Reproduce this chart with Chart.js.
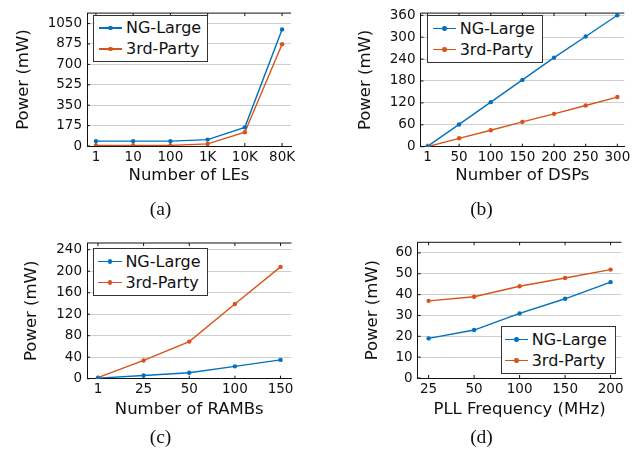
<!DOCTYPE html>
<html>
<head>
<meta charset="utf-8">
<script src="https://cdn.jsdelivr.net/npm/chart.js@4.4.1/dist/chart.umd.min.js"></script>
<style>
  html, body { margin: 0; padding: 0; background: #fff; }
  body { width: 642px; height: 457px; position: relative; overflow: hidden; font-family: 'DejaVu Sans', sans-serif; }
  .panel { position: absolute; width: 321px; height: 228px; }
  .panel canvas { position: absolute; left: 0; top: 0; }
  .caption { position: absolute; left: 0; width: 100%; text-align: center; font-family: 'Liberation Serif', serif; font-size: 19.5px; line-height: 20px; color: #111; }
  .legend { position: absolute; background: #fff; border: 1px solid #333; box-sizing: border-box; }
  .legend .row { position: absolute; left: 0; height: 20px; line-height: 20px; font-size: 16px; color: #111; white-space: nowrap; }
  .legend .sample { position: absolute; top: 9px; height: 1.5px; }
  .legend .dot { position: absolute; top: -1.5px; left: 9.5px; width: 4.5px; height: 4.5px; border-radius: 50%; }
</style>
</head>
<body>
<div id="wrap"></div>
<script>
// series
const seriesNames = ['NG-Large', '3rd-Party'];
const seriesColors = ['#0072bd', '#d95319'];

// (a) LEs
const leLabels = ['1', '10', '100', '1K', '10K', '80K'];
const leNg = [42, 42, 42, 55, 160, 1000];
const le3rd = [5, 5, 5, 18, 118, 873];
const leTicks = [0, 175, 350, 525, 700, 875, 1050];

// (b) DSPs
const dspLabels = ['1', '50', '100', '150', '200', '250', '300'];
const dspNg = [1, 61, 122, 183, 244, 302, 360];
const dsp3rd = [0, 23, 45, 68, 90, 113, 136];
const dspTicks = [0, 60, 120, 180, 240, 300, 360];

// (c) RAMBs
const rambLabels = ['1', '25', '50', '100', '150'];
const rambNg = [1, 6, 11, 23, 35];
const ramb3rd = [2, 34, 69, 139, 208];
const rambTicks = [0, 40, 80, 120, 160, 200, 240];

// (d) PLL frequency
const pllLabels = ['25', '50', '100', '150', '200'];
const pllNg = [19, 23, 31, 38, 46];
const pll3rd = [37, 39, 44, 48, 52];
const pllTicks = [0, 10, 20, 30, 40, 50, 60];

const panels = [
    { cap: '(a)', left: 0, top: 0, labels: leLabels, series: [leNg, le3rd], yTicks: leTicks, yMax: 1140, xPad: 0.24,
      xTitle: 'Number of LEs', area: { l: 87, r: 291, t: 10.7, b: 146 }, yTitleX: 24, xTitleY: 176, legend: { x: 93.3, y: 15, w: 115, h: 47.3, tx: 32.7, cy: 13.3 } },
    { cap: '(b)', left: 321, top: 0, labels: dspLabels, series: [dspNg, dsp3rd], yTicks: dspTicks, yMax: 366, xPad: 0.22,
      xTitle: 'Number of DSPs', area: { l: 99.5, r: 303.3, t: 11.7, b: 146.7 }, yTitleX: 45, xTitleY: 175.7, legend: { x: 106, y: 15, w: 115.7, h: 47.7, tx: 32.7, cy: 13.5 } },
    { cap: '(c)', left: 0, top: 228, labels: rambLabels, series: [rambNg, ramb3rd], yTicks: rambTicks, yMax: 252.5, xPad: 0.24,
      xTitle: 'Number of RAMBs', area: { l: 87, r: 291.5, t: 15, b: 150.7 }, yTitleX: 31.7, xTitleY: 181.7, legend: { x: 92.7, y: 20, w: 115.6, h: 47.7, tx: 32.7, cy: 13.5 } },
    { cap: '(d)', left: 321, top: 228, labels: pllLabels, series: [pllNg, pll3rd], yTicks: pllTicks, yMax: 65.1, xPad: 0.24,
      xTitle: 'PLL Frequency (MHz)', area: { l: 96.7, r: 300.5, t: 14.3, b: 150 }, yTitleX: 51.7, xTitleY: 181.7, legend: { x: 180, y: 97.7, w: 115, h: 48.3, tx: 30.7, cy: 14 } }
];

const CANVAS_W = 321, CANVAS_H = 200;
const TICK_FONT = 13.5, TITLE_FONT = 16.5;

Chart.defaults.font.family = "'DejaVu Sans', sans-serif";
Chart.defaults.color = '#111';

// top border and inward tick marks, pgfplots style
const frame = {
    id: 'frame',
    beforeDatasetsDraw(chart) {
        const { ctx, chartArea: a, scales: { x, y } } = chart;
        ctx.save();
        ctx.strokeStyle = '#111';
        ctx.lineWidth = 1;
        ctx.beginPath();
        ctx.moveTo(a.left, a.top);
        ctx.lineTo(a.right, a.top);
        x.ticks.forEach(t => {
            const px = x.getPixelForValue(t.value);
            ctx.moveTo(px, a.top); ctx.lineTo(px, a.top + 3);
            ctx.moveTo(px, a.bottom); ctx.lineTo(px, a.bottom - 3);
        });
        y.ticks.forEach(t => {
            const py = y.getPixelForValue(t.value);
            ctx.moveTo(a.left, py); ctx.lineTo(a.left + 3, py);
        });
        ctx.stroke();
        ctx.restore();
    }
};

const wrap = document.getElementById('wrap');

panels.forEach(p => {
    const box = document.createElement('div');
    box.className = 'panel';
    box.style.left = p.left + 'px';
    box.style.top = p.top + 'px';
    wrap.appendChild(box);

    const canvas = document.createElement('canvas');
    canvas.width = CANVAS_W;
    canvas.height = CANVAS_H;
    box.appendChild(canvas);

    const xAxisH = CANVAS_H - p.area.b;
    const titleLH = TITLE_FONT * 1.2;

    new Chart(canvas.getContext('2d'), {
        type: 'line',
        data: {
            datasets: p.series.map((vals, i) => ({
                label: seriesNames[i],
                data: vals.map((v, k) => ({ x: k, y: v })),
                borderColor: seriesColors[i],
                backgroundColor: seriesColors[i],
                borderWidth: 1.4,
                pointRadius: 2.2,
                pointBorderWidth: 0,
                pointHoverRadius: 2.2,
                tension: 0,
                fill: false
            }))
        },
        options: {
            responsive: false,
            animation: false,
            devicePixelRatio: 1,
            layout: { padding: { left: 0, right: CANVAS_W - p.area.r, top: p.area.t, bottom: 0 } },
            plugins: {
                legend: { display: false },
                tooltip: { enabled: false }
            },
            scales: {
                x: {
                    type: 'linear',
                    min: -p.xPad,
                    max: p.labels.length - 1 + p.xPad,
                    afterBuildTicks: s => { s.ticks = p.labels.map((l, i) => ({ value: i })); },
                    afterFit: s => { s.height = xAxisH; },
                    ticks: {
                        autoSkip: false,
                        maxRotation: 0,
                        padding: 3,
                        font: { size: TICK_FONT },
                        callback: v => p.labels[v]
                    },
                    grid: { drawOnChartArea: false, drawTicks: false },
                    border: { display: true, color: '#111', width: 1 },
                    title: {
                        display: true,
                        text: p.xTitle,
                        font: { size: TITLE_FONT },
                        padding: { top: 0, bottom: CANVAS_H - p.xTitleY - titleLH / 2 }
                    }
                },
                y: {
                    min: 0,
                    max: p.yMax,
                    afterBuildTicks: s => { s.ticks = p.yTicks.map(v => ({ value: v })); },
                    afterFit: s => { s.width = p.area.l; },
                    ticks: { padding: 5, font: { size: TICK_FONT }, callback: v => String(v) },
                    grid: { color: '#cfcfcf', lineWidth: 1, drawTicks: false },
                    border: { display: true, color: '#111', width: 1 },
                    title: {
                        display: true,
                        text: 'Power (mW)',
                        font: { size: TITLE_FONT },
                        padding: { top: p.yTitleX - titleLH / 2, bottom: 0 }
                    }
                }
            }
        },
        plugins: [frame]
    });

    // legend box
    const lg = document.createElement('div');
    lg.className = 'legend';
    lg.style.left = p.legend.x + 'px';
    lg.style.top = p.legend.y + 'px';
    lg.style.width = p.legend.w + 'px';
    lg.style.height = p.legend.h + 'px';
    seriesNames.forEach((name, i) => {
        const row = document.createElement('div');
        row.className = 'row';
        row.style.top = (p.legend.cy - 11 + i * 21) + 'px';
        row.innerHTML = `<span class="sample" style="left:${p.legend.tx - 28}px;width:23.5px;background:${seriesColors[i]}"><span class="dot" style="background:${seriesColors[i]}"></span></span><span style="position:absolute;left:${p.legend.tx - 1}px">${name}</span>`;
        lg.appendChild(row);
    });
    box.appendChild(lg);

    const cap = document.createElement('div');
    cap.className = 'caption';
    cap.style.top = '199px';
    cap.textContent = p.cap;
    box.appendChild(cap);
});
</script>
</body>
</html>
